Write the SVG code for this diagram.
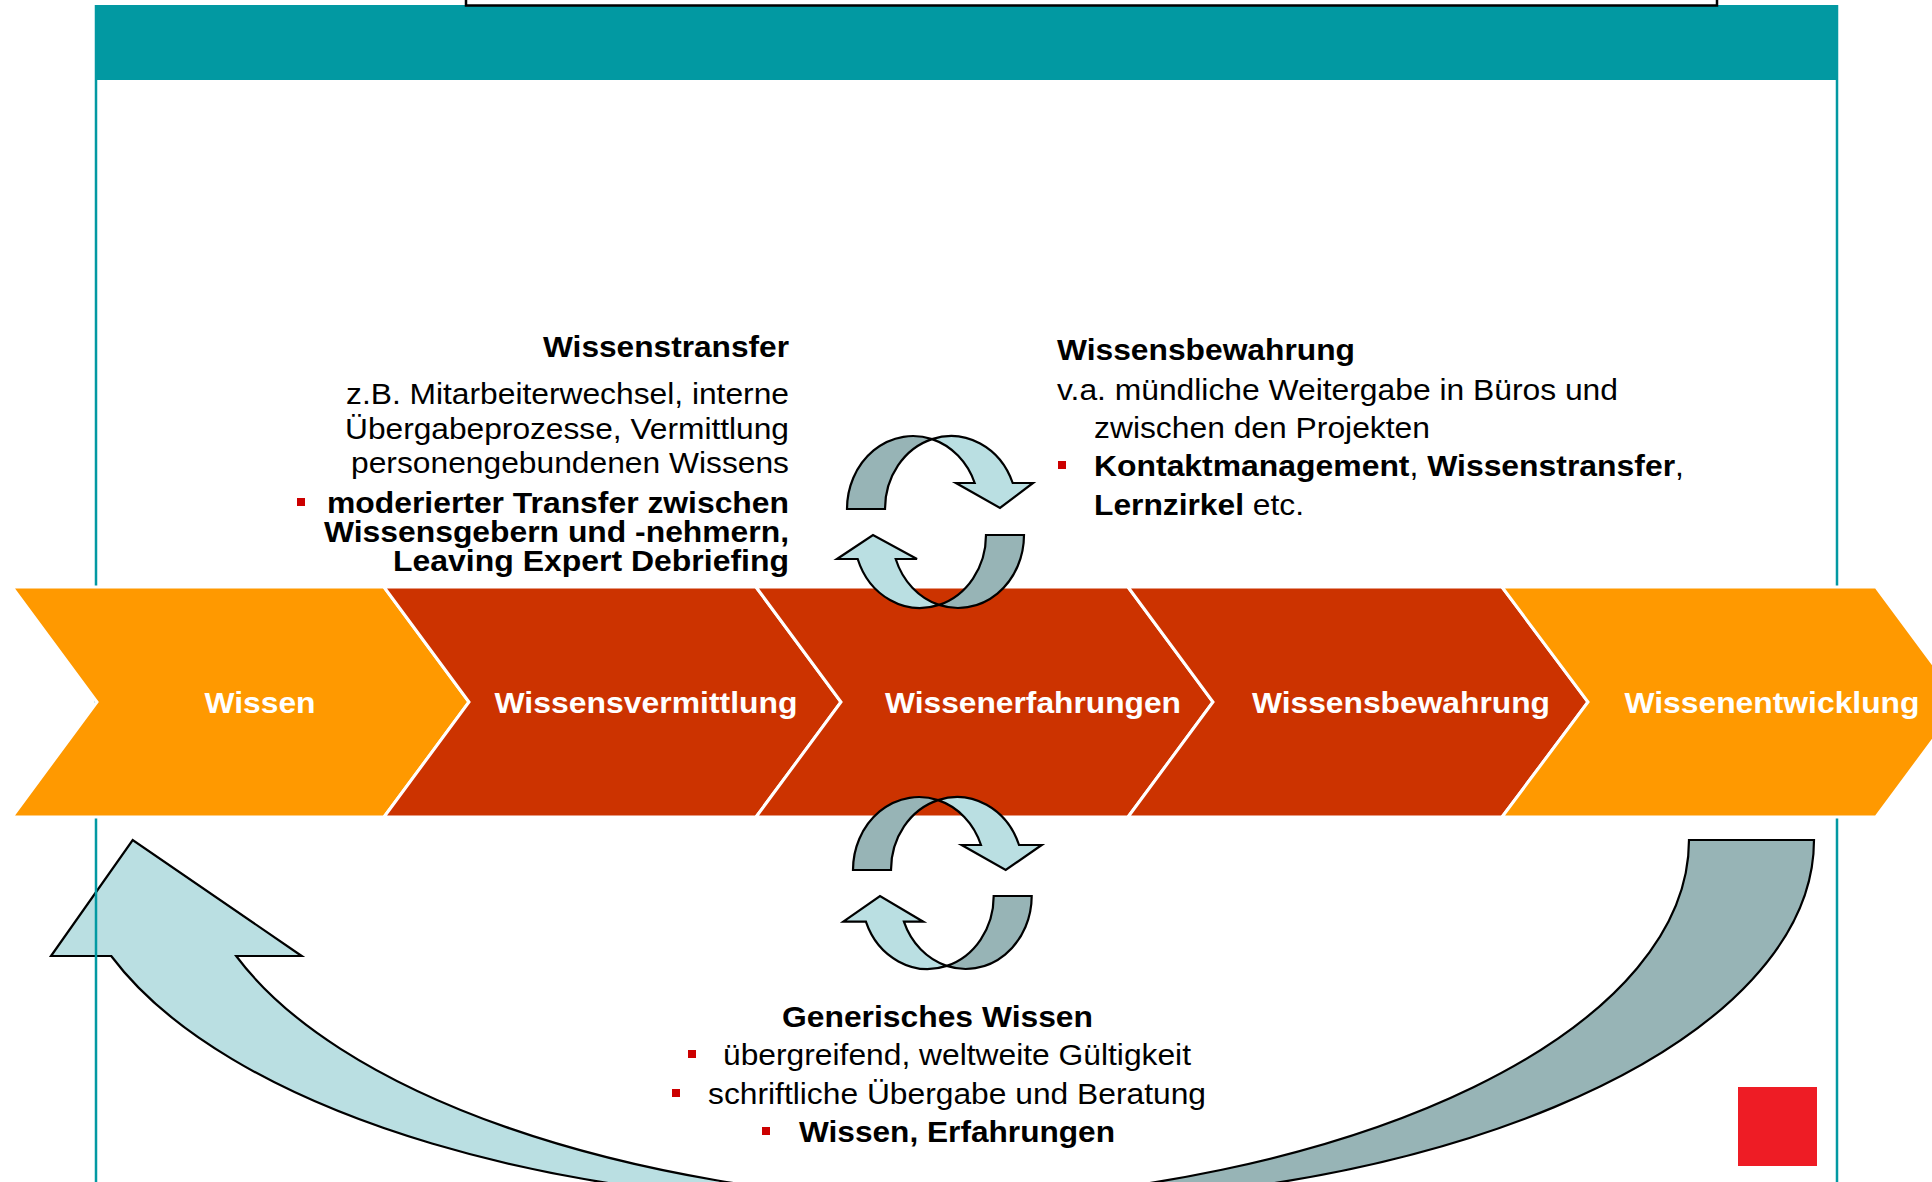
<svg xmlns="http://www.w3.org/2000/svg" width="1932" height="1182" viewBox="0 0 1932 1182">
<style>
.t{font-family:"Liberation Sans",Arial,sans-serif;font-size:30px;fill:#000}
.b{font-weight:bold}
.end{text-anchor:end}
.lbl{font-family:"Liberation Sans",Arial,sans-serif;font-size:30px;font-weight:bold;fill:#fff;text-anchor:middle}
.bul{fill:#CC0000}
.dk{fill:#97B4B6;stroke:#000;stroke-width:2.2}
.lt{fill:#BADFE2;stroke:#000;stroke-width:2.2}
.co{fill:#FF9900;stroke:#fff;stroke-width:3}
.cr{fill:#CC3300;stroke:#fff;stroke-width:3}
</style>
<rect width="1932" height="1182" fill="#fff"/>
<g id="header">
<rect x="95" y="5" width="1743" height="75" fill="#0299A2"/>
<rect x="466" y="-20" width="1251" height="25.5" fill="#fff" stroke="#000" stroke-width="2.5"/>
</g>
<g id="connectors">
<g id="big-arrow">
<path class="dk" d="M1814,840 A810,364 0 0 1 941.5,1202.9 A810,364 0 0 0 1689,840 Z"/>
<path class="lt" d="M941.5,1202.9 A810,364 0 0 1 111.2,956 L51,956 L132.7,840 L301.7,956 L236.2,956 A810,364 0 0 0 941.5,1202.9 Z"/>
</g>
</g>
<g id="frame">
<line x1="96" y1="5" x2="96" y2="1182" stroke="#0299A2" stroke-width="2.5"/>
<line x1="1837" y1="5" x2="1837" y2="1182" stroke="#0299A2" stroke-width="2.5"/>
</g>
<g id="chevrons">
<g id="n-wissen"><path class="co" d="M12,587 H384 L469,702 L384,817 H12 L97,702 Z"/><text class="lbl" x="260" y="713" textLength="111" lengthAdjust="spacingAndGlyphs">Wissen</text></g>
<g id="n-vermittlung"><path class="cr" d="M384,587 H756 L841,702 L756,817 H384 L469,702 Z"/><text class="lbl" x="646" y="713" textLength="303" lengthAdjust="spacingAndGlyphs">Wissensvermittlung</text></g>
<g id="n-erfahrungen"><path class="cr" d="M756,587 H1128 L1213,702 L1128,817 H756 L841,702 Z"/><text class="lbl" x="1033" y="713" textLength="296" lengthAdjust="spacingAndGlyphs">Wissenerfahrungen</text></g>
<g id="n-bewahrung"><path class="cr" d="M1128,587 H1502 L1588,702 L1502,817 H1128 L1213,702 Z"/><text class="lbl" x="1401" y="713" textLength="298" lengthAdjust="spacingAndGlyphs">Wissensbewahrung</text></g>
<g id="n-entwicklung"><path class="co" d="M1502,587 H1876 L1961,702 L1876,817 H1502 L1588,702 Z"/><text class="lbl" x="1772" y="713" textLength="295" lengthAdjust="spacingAndGlyphs">Wissenentwicklung</text></g>
</g>
<g id="cycles">
<g id="cycle-top">
<path class="dk" d="M847,509 A66,73 0 0 1 932,439.1 A66,73 0 0 0 885,509 Z"/>
<path class="lt" d="M932,439.1 A66,73 0 0 1 1012.7,483 L1033,483 L1000,508 L956,483 L974.7,483 A66,73 0 0 0 932,439.1 Z"/>
<path class="dk" d="M1024,535 A66,73 0 0 1 939,604.9 A66,73 0 0 0 986,535 Z"/>
<path class="lt" d="M939,604.9 A66,73 0 0 1 857.7,559 L837,559 L873,535 L917,559 L895.7,559 A66,73 0 0 0 939,604.9 Z"/>
</g>
<g id="cycle-bottom">
<path class="dk" d="M853,870 A66,73 0 0 1 938,800.1 A66,73 0 0 0 891,870 Z"/>
<path class="lt" d="M938,800.1 A66,73 0 0 1 1019,845 L1041.7,845 L1005.7,870 L961.7,845 L981,845 A66,73 0 0 0 938,800.1 Z"/>
<path class="dk" d="M1031.7,896 A66,73 0 0 1 946.7,965.9 A66,73 0 0 0 993.7,896 Z"/>
<path class="lt" d="M946.7,965.9 A66,73 0 0 1 865.9,921.7 L843.3,921.7 L880,896 L923.3,921.7 L903.9,921.7 A66,73 0 0 0 946.7,965.9 Z"/>
</g>
</g>
<g id="text-transfer">
<text class="t b end" x="789" y="357" textLength="246" lengthAdjust="spacingAndGlyphs">Wissenstransfer</text>
<text class="t end" x="789" y="404" textLength="443" lengthAdjust="spacingAndGlyphs">z.B. Mitarbeiterwechsel, interne</text>
<text class="t end" x="789" y="439" textLength="444" lengthAdjust="spacingAndGlyphs">Übergabeprozesse, Vermittlung</text>
<text class="t end" x="789" y="473" textLength="438" lengthAdjust="spacingAndGlyphs">personengebundenen Wissens</text>
<rect class="bul" x="297" y="498" width="8" height="8"/>
<text class="t b end" x="789" y="513" textLength="462" lengthAdjust="spacingAndGlyphs">moderierter Transfer zwischen</text>
<text class="t b end" x="789" y="542" textLength="465" lengthAdjust="spacingAndGlyphs">Wissensgebern und -nehmern,</text>
<text class="t b end" x="789" y="571" textLength="396" lengthAdjust="spacingAndGlyphs">Leaving Expert Debriefing</text>
</g>
<g id="text-bewahrung">
<text class="t b" x="1057" y="360" textLength="298" lengthAdjust="spacingAndGlyphs">Wissensbewahrung</text>
<text class="t" x="1057" y="400" textLength="561" lengthAdjust="spacingAndGlyphs">v.a. mündliche Weitergabe in Büros und</text>
<text class="t" x="1094" y="438" textLength="336" lengthAdjust="spacingAndGlyphs">zwischen den Projekten</text>
<rect class="bul" x="1058" y="461" width="8" height="8"/>
<text class="t" x="1094" y="476" textLength="590" lengthAdjust="spacingAndGlyphs"><tspan class="b">Kontaktmanagement</tspan>, <tspan class="b">Wissenstransfer</tspan>,</text>
<text class="t" x="1094" y="515" textLength="210" lengthAdjust="spacingAndGlyphs"><tspan class="b">Lernzirkel</tspan> etc.</text>
</g>
<g id="text-generisch">
<text class="t b" x="782" y="1027" textLength="311" lengthAdjust="spacingAndGlyphs">Generisches Wissen</text>
<rect class="bul" x="688" y="1050" width="8" height="8"/>
<text class="t" x="723" y="1065" textLength="468" lengthAdjust="spacingAndGlyphs">übergreifend, weltweite Gültigkeit</text>
<rect class="bul" x="672" y="1089" width="8" height="8"/>
<text class="t" x="708" y="1104" textLength="498" lengthAdjust="spacingAndGlyphs">schriftliche Übergabe und Beratung</text>
<rect class="bul" x="762" y="1127" width="8" height="8"/>
<text class="t b" x="799" y="1142" textLength="316" lengthAdjust="spacingAndGlyphs">Wissen, Erfahrungen</text>
</g>
<rect id="red-square" x="1738" y="1087" width="79" height="79" fill="#EE1C25"/>
</svg>
